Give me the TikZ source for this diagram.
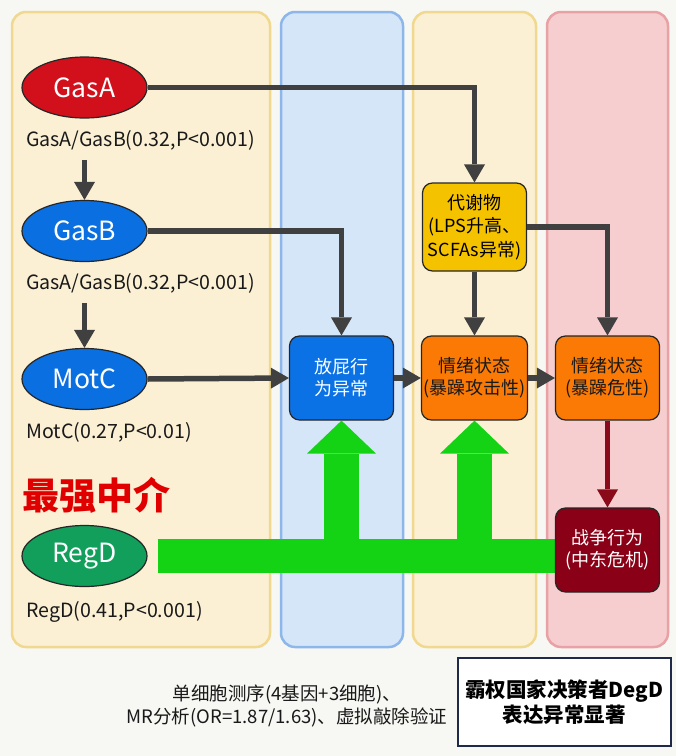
\documentclass[tikz,border=0pt]{standalone}
\usepackage{fontspec}
\setmainfont{Noto Sans CJK SC}
\usetikzlibrary{arrows.meta,shapes.geometric}
\definecolor{bgc}{HTML}{F7F7F3}
\definecolor{pYf}{HTML}{FBF0D4}
\definecolor{pYd}{HTML}{F0D88E}
\definecolor{pBf}{HTML}{D6E6F9}
\definecolor{pBd}{HTML}{8DB7EA}
\definecolor{pRf}{HTML}{F6CECF}
\definecolor{pRd}{HTML}{E8A1A5}
\definecolor{gasred}{HTML}{D2101C}
\definecolor{gasblue}{HTML}{0A6FE0}
\definecolor{reggreen}{HTML}{129F5C}
\definecolor{boxblue}{HTML}{0B72E6}
\definecolor{boxorange}{HTML}{FA7A05}
\definecolor{boxgold}{HTML}{F5C200}
\definecolor{boxdred}{HTML}{8A0016}
\definecolor{arrgray}{HTML}{404040}
\definecolor{arrred}{HTML}{8B0A1A}
\definecolor{brightgreen}{HTML}{14D214}
\definecolor{navy}{HTML}{1F2A4A}
\definecolor{strongred}{HTML}{E00000}
\tikzset{
  panel/.style={line width=2.5pt, rounded corners=14pt},
  ell/.style={ellipse, draw=black!85, line width=1.2pt, minimum width=125pt, minimum height=61pt, inner sep=0pt, text=white, font=\fontsize{26.5}{28}\selectfont},
  lbl/.style={anchor=west, inner sep=0pt, font=\fontsize{19.6}{22}\selectfont, text=black!90},
  sbox/.style={draw=black!85, line width=1.2pt, rounded corners=10pt, minimum width=104pt, minimum height=84pt, align=center, inner sep=2pt, font=\fontsize{18}{22}\selectfont},
  darr/.style={draw=arrgray, line width=5.5pt, -{Triangle[width=21pt,length=18pt,line width=0pt]}},
  garr/.style={draw=brightgreen, line width=35pt, -{Triangle[width=69pt,length=33pt,line width=0pt]}},
}
\begin{document}
\begin{tikzpicture}[x=1pt,y=-1pt]
\useasboundingbox (0,0) rectangle (676,756);
\fill[bgc] (0,0) rectangle (676,756);
% panels
\draw[panel, fill=pYf, draw=pYd] (12,12) rectangle (270,647);
\draw[panel, fill=pBf, draw=pBd] (281,12) rectangle (403,647);
\draw[panel, fill=pYf, draw=pYd] (413,12) rectangle (536,647);
\draw[panel, fill=pRf, draw=pRd] (547,12) rectangle (668,647);
% left column
\node[ell, fill=gasred] (GasA) at (84.5,87.5) {GasA};
\node[lbl] (lA) at (26,140) {GasA/GasB(0.32,P<0.001)};
\node[ell, fill=gasblue] (GasB) at (84.5,231) {GasB};
\node[lbl] (lB) at (26,283) {GasA/GasB(0.32,P<0.001)};
\node[ell, fill=gasblue] (MotC) at (84.5,379) {MotC};
\node[lbl] (lC) at (26,432) {MotC(0.27,P<0.01)};
\node[anchor=west, inner sep=0pt, text=strongred, font=\fontsize{37}{40}\selectfont\bfseries] (strong) at (22,495) {最强中介};
\node[ell, fill=reggreen] (RegD) at (84.5,556) {RegD};
\node[lbl] (lD) at (26,612) {RegD(0.41,P<0.001)};
% boxes
\node[sbox, fill=boxgold, minimum height=88pt, font=\fontsize{18}{23.5}\selectfont] (met) at (474.5,227) {代谢物\\(LPS升高、\\SCFAs异常)};
\node[sbox, fill=boxblue, text=white] (fart) at (341.5,378) {放屁行\\为异常};
\node[sbox, fill=boxorange, text=black!90] (emo1) at (474.5,378) {情绪状态\\(暴躁攻击性)};
\node[sbox, fill=boxorange, text=black!90] (emo2) at (607.5,378) {情绪状态\\(暴躁危性)};
% green arrows (behind war box)
\draw[draw=brightgreen, line width=34pt, shorten <=10pt] (RegD.east) -- (emo2.center |- RegD.east);
\draw[garr] (fart.south |- RegD.east) -- (fart.south);
\draw[garr] (emo1.south |- RegD.east) -- (emo1.south);
\node[sbox, fill=boxdred, text=white] (war) at (607.5,550) {战争行为\\(中东危机)};
% dark arrows
\draw[darr, shorten <=10pt] (lA.south -| GasA) -- (GasB.north);
\draw[darr, shorten <=10pt] (lB.south -| GasB) -- (MotC.north);
\draw[darr] (GasA.east) -| (met.north);
\draw[darr] (GasB.east) -| (fart.north);
\draw[darr] (MotC.east) -- (fart.west);
\draw[darr] (fart.east) -- (emo1.west);
\draw[darr] (emo1.east) -- (emo2.west);
\draw[darr] (met.south) -- (emo1.north);
\draw[darr] (met.east) -| (emo2.north);
\draw[darr, draw=arrred] (emo2.south) -- (war.north);
% bottom
\node[align=center, inner sep=0pt, font=\fontsize{18.5}{23}\selectfont, text=black!90] (note) at (287,706) {单细胞测序(4基因+3细胞)、\\MR分析(OR=1.87/1.63)、虚拟敲除验证};
\node[draw=navy, fill=white, line width=2pt, minimum width=213pt, minimum height=88pt, align=center, inner sep=0pt, font=\fontsize{20.5}{25}\selectfont\bfseries] (deg) at (564,702) {霸权国家决策者DegD\\表达异常显著};
\end{tikzpicture}
\end{document}
